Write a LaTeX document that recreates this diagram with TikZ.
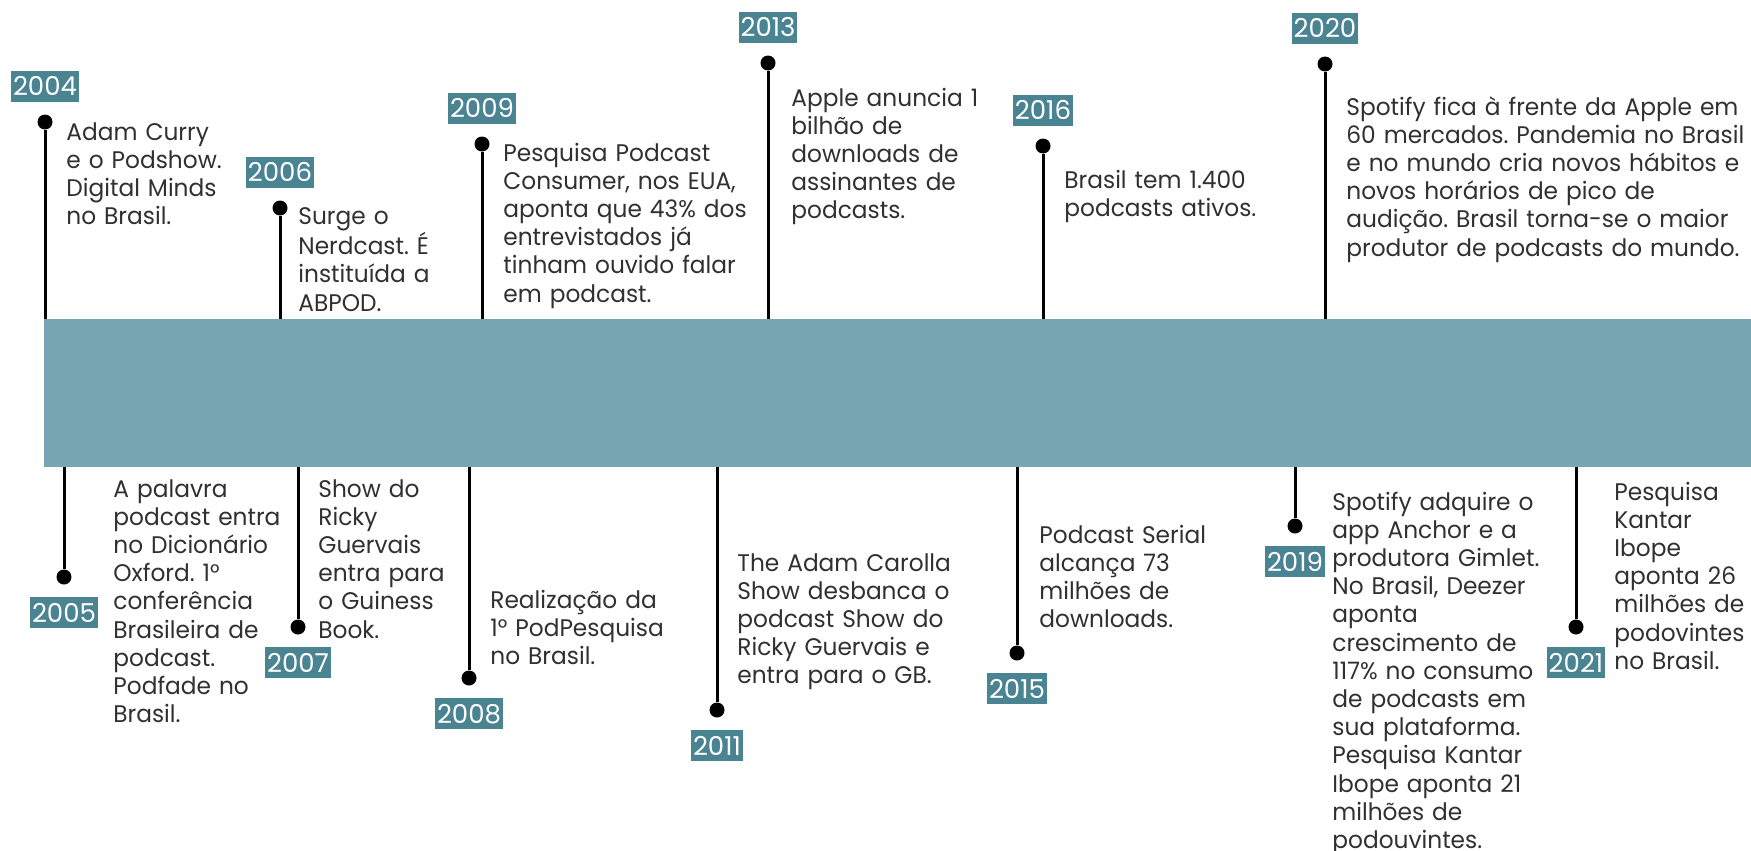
\documentclass[tikz,border=0pt]{standalone}
\usepackage{fontspec}
\setmainfont{Poppins}
\newfontfamily\eventfont{Poppins}[FakeStretch=0.97]
\usetikzlibrary{positioning}

\definecolor{bandcol}{HTML}{77A5B1}
\definecolor{tagcol}{HTML}{4A8391}
\definecolor{txtcol}{HTML}{303030}

\tikzset{
  bead/.style={circle, fill=black, inner sep=0pt, minimum size=7.5pt},
  stemline/.style={line width=1.5pt},
  yeartag/.style={fill=tagcol, text=white, inner xsep=1pt, inner ysep=0pt,
    minimum height=15.5pt, font=\fontsize{13}{13}\selectfont},
  eventtxt/.style={anchor=base west, align=left, text width=260pt, inner sep=0pt,
    text=txtcol, font=\eventfont\fontsize{12}{14.1}\selectfont\frenchspacing},
}

\begin{document}
\begin{tikzpicture}[x=0.5pt, y=-0.5pt, node distance=6pt]
    \useasboundingbox (0,0) rectangle (1751,851);
    \fill[bandcol] (44,319) coordinate (bandtl) rectangle (1751,467) coordinate (bandbr);
    % events above the band
    \foreach \n/\x/\y/\tx/\ty/\txt in {
      2004/45/122/66/140/{Adam Curry\\e o Podshow.\\Digital Minds\\no Brasil.},
      2006/280/208/298/224/{Surge o\\Nerdcast. É\\instituída a\\ABPOD.},
      2009/482/144/503/161/{Pesquisa Podcast\\Consumer, nos EUA,\\aponta que 43\% dos\\entrevistados já\\tinham ouvido falar\\em podcast.},
      2013/768/63/791/106/{Apple anuncia 1\\bilhão de\\downloads de\\assinantes de\\podcasts.},
      2016/1043/146/1064/188/{Brasil tem 1.400\\podcasts ativos.},
      2020/1325/64/1346/115/{Spotify fica à frente da Apple em\\60 mercados. Pandemia no Brasil\\e no mundo cria novos hábitos e\\novos horários de pico de\\audição. Brasil torna-se o maior\\produtor de podcasts do mundo.}}
    {
      \node[bead] (d\n) at (\x,\y) {};
      \node[yeartag, above=of d\n] (y\n) {\n};
      \node[eventtxt] (t\n) at (\tx,\ty) {\txt};
      \draw[stemline] (d\n) -- (d\n |- bandtl);
    }
    % events below the band
    \foreach \n/\x/\y/\tx/\ty/\txt in {
      2005/64/577/113/497/{A palavra\\podcast entra\\no Dicionário\\Oxford. 1°\\conferência\\Brasileira de\\podcast.\\Podfade no\\Brasil.},
      2007/298/627/318/497/{Show do\\Ricky\\Guervais\\entra para\\o Guiness\\Book.},
      2008/469/678/490/608/{Realização da\\1° PodPesquisa\\no Brasil.},
      2011/717/710/737/571/{The Adam Carolla\\Show desbanca o\\podcast Show do\\Ricky Guervais e\\entra para o GB.},
      2015/1017/653/1039/543/{Podcast Serial\\alcança 73\\milhões de\\downloads.},
      2019/1295/526/1332/510/{Spotify adquire o\\app Anchor e a\\produtora Gimlet.\\No Brasil, Deezer\\aponta\\crescimento de\\117\% no consumo\\de podcasts em\\sua plataforma.\\Pesquisa Kantar\\Ibope aponta 21\\milhões de\\podouvintes.},
      2021/1576/627/1614/500/{Pesquisa\\Kantar\\Ibope\\aponta 26\\milhões de\\podovintes\\no Brasil.}}
    {
      \node[bead] (d\n) at (\x,\y) {};
      \node[yeartag, below=of d\n] (y\n) {\n};
      \node[eventtxt] (t\n) at (\tx,\ty) {\txt};
      \draw[stemline] (bandbr -| d\n) -- (d\n);
    }
\end{tikzpicture}
\end{document}
